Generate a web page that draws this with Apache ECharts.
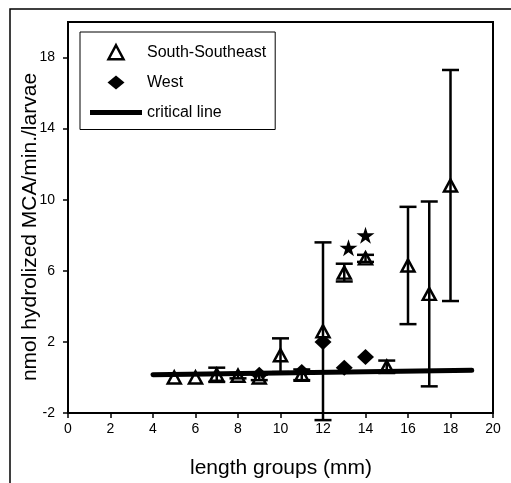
<!DOCTYPE html>
<html>
<head>
<meta charset="utf-8">
<script src="https://cdn.jsdelivr.net/npm/echarts@6/dist/echarts.min.js"></script>
<style>
  html, body { margin: 0; padding: 0; background: #fff; }
  #chart { width: 511px; height: 483px; }
</style>
</head>
<body>
<div id="chart"></div>
<script>
// ---- data ----
const sseX    = [5, 6, 7, 8, 9, 10, 11, 12, 13, 14, 15, 16, 17, 18];
const sseMean = [0.0, 0.0, 0.15, 0.1, 0.0, 1.25, 0.15, 2.6, 5.9, 6.7, 0.6, 6.3, 4.7, 10.8];
const sseErr  = [0, 0, 0.4, 0.15, 0.15, 0.95, 0.3, 5.0, 0.5, 0.2, 0.35, 3.3, 5.2, 6.5];

const westX    = [9, 11, 12, 13, 14];
const westMean = [0.15, 0.3, 2.0, 0.55, 1.15];

const starX = [13.2, 14.0];
const starY = [7.3, 8.0];

const criticalX = [4, 19];
const criticalY = [0.15, 0.4];

const yTickValues = [-2, 2, 6, 10, 14, 18];

const FONT = '"Liberation Sans", Arial, sans-serif';
const STAR = 'path://M50,0 L61,35 L98,35 L68,57 L79,91 L50,70 L21,91 L32,57 L2,35 L39,35 Z';
const TRI_ICON = 'path://M7.5,0 L15,14 L0,14 Z';
const DIAMOND_ICON = 'path://M8.5,0 L17,7 L8.5,14 L0,7 Z';
const LINE_ICON = 'path://M0,0 L52,0 L52,5 L0,5 Z';

const sseData = sseX.map((x, i) => [x, sseMean[i]]);
const westData = westX.map((x, i) => [x, westMean[i]]);
const starData = starX.map((x, i) => [x, starY[i]]);
const critData = criticalX.map((x, i) => [x, criticalY[i]]);
const errData = [];
sseX.forEach((x, i) => {
  if (sseErr[i] > 0) errData.push([x, sseMean[i] - sseErr[i], sseMean[i] + sseErr[i]]);
});

const chart = echarts.init(document.getElementById('chart'), null, { renderer: 'canvas' });

chart.setOption({
  animation: false,
  backgroundColor: '#fff',
  textStyle: { fontFamily: FONT, color: '#000' },
  grid: {
    left: 68, right: 18, top: 22, bottom: 70,
    show: true, borderColor: '#000', borderWidth: 2, backgroundColor: 'transparent'
  },
  xAxis: {
    type: 'value', min: 0, max: 20, interval: 2,
    axisLine: { show: true, onZero: false, lineStyle: { color: '#000', width: 2 } },
    axisTick: { show: true, inside: false, length: 5, lineStyle: { color: '#000', width: 1.5 } },
    axisLabel: { color: '#000', fontSize: 14, fontFamily: FONT, margin: 9 },
    splitLine: { show: false }
  },
  yAxis: {
    type: 'value', min: -2, max: 20,
    axisLine: { show: true, onZero: false, lineStyle: { color: '#000', width: 2 } },
    axisTick: { show: true, inside: false, length: 5, customValues: yTickValues, lineStyle: { color: '#000', width: 1.5 } },
    axisLabel: { color: '#000', fontSize: 14, fontFamily: FONT, margin: 13, customValues: yTickValues },
    splitLine: { show: false }
  },
  legend: {
    left: 80, top: 32,
    orient: 'vertical',
    padding: [12, 9, 9, 10],
    itemWidth: 52, itemHeight: 14, itemGap: 14,
    borderColor: '#000', borderWidth: 1, backgroundColor: '#fff',
    textStyle: { fontSize: 16, color: '#000', fontFamily: FONT, lineHeight: 16 },
    selectedMode: false,
    data: [
      { name: 'South-Southeast', icon: TRI_ICON, itemStyle: { color: '#fff', borderColor: '#000', borderWidth: 2.5 } },
      { name: 'West', icon: DIAMOND_ICON, itemStyle: { color: '#000', borderWidth: 0 } },
      { name: 'critical line', icon: LINE_ICON, itemStyle: { color: '#000', borderWidth: 0 } }
    ]
  },
  graphic: [
    { type: 'rect', silent: true, z: 0, shape: { x: 10, y: 9, width: 700, height: 700 },
      style: { fill: 'none', stroke: '#000', lineWidth: 1.5 } },
    { type: 'text', silent: true, x: 30, y: 227, rotation: Math.PI / 2,
      style: { text: 'nmol hydrolized MCA/min./larvae', font: '21px ' + FONT, fill: '#000', align: 'center', verticalAlign: 'middle' } },
    { type: 'text', silent: true, x: 281, y: 468,
      style: { text: 'length groups (mm)', font: '21px ' + FONT, fill: '#000', align: 'center', verticalAlign: 'middle' } }
  ],
  series: [
    {
      name: 'South-Southeast', type: 'scatter', data: sseData,
      symbol: 'triangle', symbolSize: [13, 12], z: 3,
      itemStyle: { color: '#fff', borderColor: '#000', borderWidth: 2.5, opacity: 1 }
    },
    {
      name: 'West', type: 'scatter', data: westData,
      symbol: 'diamond', symbolSize: [17, 16], z: 2,
      itemStyle: { color: '#000', opacity: 1 }
    },
    {
      name: 'stars', type: 'scatter', data: starData,
      symbol: STAR, symbolSize: [18, 17], z: 3,
      itemStyle: { color: '#000', opacity: 1 }
    },
    {
      name: 'errors', type: 'custom', data: errData, z: 4,
      renderItem: function (params, api) {
        const x = api.value(0);
        const lo = api.coord([x, api.value(1)]);
        const hi = api.coord([x, api.value(2)]);
        const hw = 8.5;
        const st = { stroke: '#000', lineWidth: 2.5, fill: 'none' };
        return {
          type: 'group',
          children: [
            { type: 'line', shape: { x1: lo[0], y1: lo[1], x2: hi[0], y2: hi[1] }, style: st },
            { type: 'line', shape: { x1: lo[0] - hw, y1: lo[1], x2: lo[0] + hw, y2: lo[1] }, style: st },
            { type: 'line', shape: { x1: hi[0] - hw, y1: hi[1], x2: hi[0] + hw, y2: hi[1] }, style: st }
          ]
        };
      }
    },
    {
      name: 'critical line', type: 'line', data: critData,
      showSymbol: false, symbol: 'none', z: 5,
      itemStyle: { color: '#000' },
      lineStyle: { color: '#000', width: 5, cap: 'round' }
    }
  ]
});
</script>
</body>
</html>
